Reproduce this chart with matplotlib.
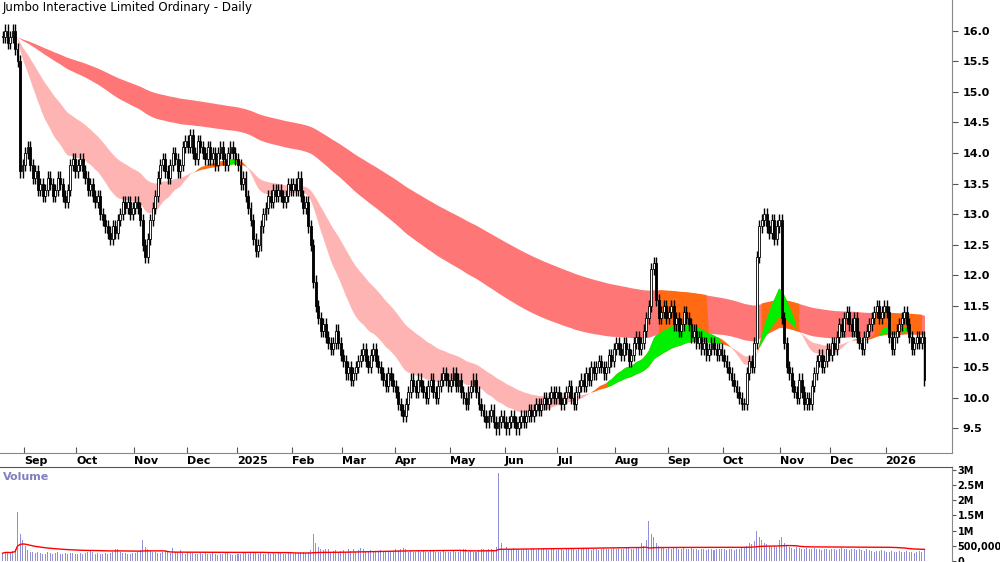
import numpy as np
import pandas as pd
import matplotlib
matplotlib.use("Agg")
import matplotlib.pyplot as plt

# daily closes
closes_by_month = {
    "2024-08": [15.9, 16.0, 15.8, 15.9, 16.0, 15.7, 15.5, 13.7, 13.8],
    "2024-09": [14.0, 14.1, 13.8, 13.6, 13.7, 13.4, 13.5, 13.3, 13.4, 13.6, 13.5, 13.3, 13.4, 13.6, 13.5, 13.3, 13.2, 13.4, 13.8, 13.9, 13.7],
    "2024-10": [13.8, 13.9, 13.7, 13.6, 13.4, 13.5, 13.3, 13.2, 13.3, 13.0, 12.9, 12.8, 12.7, 12.6, 12.8, 12.7, 12.9, 13.0, 13.2, 13.1, 13.2, 13.0, 13.1],
    "2024-11": [13.2, 13.1, 12.9, 12.5, 12.3, 12.6, 12.9, 13.1, 13.3, 13.6, 13.8, 13.9, 13.7, 13.6, 13.8, 14.0, 13.9, 13.7, 13.8, 14.1, 14.2],
    "2024-12": [14.1, 14.3, 14.0, 13.9, 14.2, 14.1, 14.0, 13.9, 14.1, 13.9, 14.0, 13.8, 14.0, 14.1, 13.9, 13.8, 14.0, 14.1, 14.0, 13.9],
    "2025-01": [13.8, 13.5, 13.6, 13.3, 13.1, 12.9, 12.6, 12.4, 12.5, 12.8, 13.0, 13.1, 13.3, 13.2, 13.4, 13.3, 13.4, 13.3, 13.2, 13.3, 13.5, 13.4],
    "2025-02": [13.5, 13.4, 13.6, 13.3, 13.1, 13.2, 12.8, 12.5, 11.9, 11.5, 11.3, 11.1, 11.2, 11.0, 10.9, 10.8, 10.9, 11.1, 10.9, 10.7],
    "2025-03": [10.6, 10.4, 10.5, 10.3, 10.4, 10.5, 10.6, 10.7, 10.8, 10.6, 10.5, 10.7, 10.8, 10.6, 10.5, 10.4, 10.3, 10.2, 10.4, 10.3, 10.2],
    "2025-04": [10.1, 9.9, 9.8, 9.7, 9.9, 10.1, 10.3, 10.2, 10.1, 10.3, 10.2, 10.1, 10.0, 10.2, 10.3, 10.1, 10.0, 10.2, 10.3, 10.4, 10.3, 10.2],
    "2025-05": [10.3, 10.4, 10.2, 10.3, 10.1, 10.0, 9.9, 10.1, 10.2, 10.3, 10.1, 9.9, 9.8, 9.7, 9.6, 9.7, 9.8, 9.6, 9.5, 9.6, 9.7, 9.6],
    "2025-06": [9.5, 9.6, 9.7, 9.6, 9.5, 9.6, 9.7, 9.6, 9.7, 9.8, 9.7, 9.8, 9.9, 9.8, 9.9, 10.0, 9.9, 10.0, 10.1, 10.0, 10.1],
    "2025-07": [10.0, 9.9, 10.0, 10.1, 10.2, 10.0, 9.9, 10.1, 10.2, 10.3, 10.2, 10.4, 10.3, 10.5, 10.4, 10.5, 10.6, 10.5, 10.4, 10.5, 10.7, 10.6, 10.8],
    "2025-08": [10.9, 10.8, 10.7, 10.9, 10.8, 10.6, 10.7, 10.9, 11.0, 10.8, 10.9, 11.1, 11.3, 11.5, 12.1, 12.2, 11.6, 11.3, 11.4, 11.5, 11.3],
    "2025-09": [11.4, 11.5, 11.2, 11.3, 11.1, 11.2, 11.4, 11.3, 11.2, 11.0, 11.1, 10.9, 11.0, 10.8, 10.9, 10.7, 10.8, 10.9, 10.8, 10.7, 10.8, 10.7],
    "2025-10": [10.6, 10.5, 10.4, 10.3, 10.2, 10.1, 10.0, 9.9, 9.9, 10.4, 10.6, 10.5, 10.9, 12.3, 12.8, 12.9, 13.0, 12.8, 12.7, 12.9, 12.6, 12.8, 12.9],
    "2025-11": [11.3, 10.9, 10.5, 10.4, 10.2, 10.1, 10.0, 10.3, 10.1, 9.9, 10.0, 9.9, 10.2, 10.4, 10.6, 10.7, 10.5, 10.6, 10.8, 10.7],
    "2025-12": [10.9, 10.8, 11.0, 11.2, 11.1, 11.3, 11.4, 11.2, 11.1, 11.3, 11.0, 10.9, 10.8, 11.0, 11.1, 11.2, 11.3, 11.4, 11.5, 11.3, 11.4, 11.5],
    "2026-01": [11.4, 11.0, 10.8, 11.0, 11.1, 11.2, 11.3, 11.4, 11.2, 11.0, 10.8, 10.9, 11.0, 10.9, 11.0, 10.3],
}

# daily volume in thousands, same months
volume_by_month = {
    "2024-08": [250, 300, 280, 260, 320, 400, 1600, 900, 700],
    "2024-09": [500, 350, 300, 280, 250, 300, 260, 220, 240, 300, 260, 230, 250, 280, 240, 220, 260, 230, 250, 270, 240],
    "2024-10": [230, 250, 220, 260, 300, 350, 280, 240, 260, 230, 220, 250, 240, 260, 280, 400, 380, 300, 260, 250, 240, 230, 250],
    "2024-11": [260, 300, 350, 700, 450, 380, 320, 300, 280, 260, 250, 300, 320, 280, 260, 420, 300, 280, 350, 260, 240],
    "2024-12": [280, 300, 260, 240, 220, 250, 230, 260, 240, 220, 250, 230, 200, 220, 240, 250, 260, 230, 180, 200],
    "2025-01": [220, 240, 260, 250, 230, 280, 300, 250, 240, 260, 230, 220, 250, 240, 260, 230, 250, 270, 240, 230, 250, 260],
    "2025-02": [240, 260, 250, 280, 300, 260, 280, 350, 900, 600, 450, 380, 350, 400, 380, 300, 320, 350, 300, 320],
    "2025-03": [350, 300, 380, 320, 400, 300, 350, 420, 380, 300, 320, 350, 300, 280, 320, 350, 300, 320, 280, 300, 320],
    "2025-04": [400, 350, 380, 420, 380, 300, 320, 280, 300, 350, 300, 320, 280, 300, 320, 350, 300, 280, 300, 320, 300, 280],
    "2025-05": [300, 320, 280, 300, 350, 400, 380, 300, 320, 280, 300, 350, 400, 380, 350, 400, 380, 350, 450, 2900, 600, 400],
    "2025-06": [450, 400, 380, 420, 400, 380, 350, 400, 380, 360, 400, 380, 350, 380, 400, 420, 380, 360, 400, 380, 360],
    "2025-07": [380, 400, 360, 380, 420, 400, 380, 360, 400, 380, 420, 400, 380, 360, 400, 380, 360, 400, 420, 380, 400, 380, 420],
    "2025-08": [400, 420, 380, 400, 450, 420, 400, 380, 420, 450, 600, 500, 700, 1300, 900, 800, 600, 500, 450, 420, 400],
    "2025-09": [420, 400, 450, 420, 400, 380, 420, 400, 380, 420, 400, 380, 360, 400, 380, 360, 400, 380, 360, 380, 400, 380],
    "2025-10": [380, 360, 400, 380, 360, 400, 380, 420, 450, 500, 600, 550, 650, 1000, 800, 700, 600, 550, 500, 450, 500, 450, 700],
    "2025-11": [800, 600, 500, 450, 420, 400, 450, 420, 400, 380, 420, 400, 380, 420, 400, 380, 360, 400, 380, 360],
    "2025-12": [380, 400, 360, 380, 420, 400, 380, 360, 400, 380, 350, 380, 360, 340, 380, 360, 340, 300, 320, 340, 360, 320],
    "2026-01": [300, 280, 320, 300, 280, 320, 300, 280, 320, 300, 280, 260, 300, 320, 280, 400],
}

closes = np.array(sum(closes_by_month.values(), []))
volumes = np.array(sum(volume_by_month.values(), [])) * 1000.0
month_labels = ["Aug", "Sep", "Oct", "Nov", "Dec", "2025", "Feb", "Mar", "Apr", "May", "Jun",
                "Jul", "Aug", "Sep", "Oct", "Nov", "Dec", "2026"]

n = len(closes)
x = np.arange(n)
opens = np.r_[closes[0], closes[:-1]]
highs = np.maximum(opens, closes) + 0.1
lows = np.minimum(opens, closes) - 0.1

c = pd.Series(closes)
ema = lambda span: c.ewm(span=span, adjust=False).mean().values
f1, f2 = ema(25), ema(55)
s1, s2 = ema(160), ema(260)
vol_ma = pd.Series(volumes).rolling(60, min_periods=1).mean().values

fig = plt.figure(figsize=(10, 5.62), dpi=100)
ax = fig.add_axes([0.0, 0.194, 0.952, 0.806])
axv = fig.add_axes([0.0, 0.0, 0.952, 0.169])

RED, PINK, GREEN, ORANGE = "#ff7676", "#ffb4b4", "#00f000", "#ff6a13"

# long ribbon
lo_s, hi_s = np.minimum(s1, s2), np.maximum(s1, s2)
bull_long = f1 > lo_s
ax.fill_between(x, lo_s, hi_s, color=RED, lw=0)
ax.fill_between(x, lo_s, hi_s, where=bull_long, color=ORANGE, lw=0, interpolate=True)

# short ribbon
lo_f, hi_f = np.minimum(f1, f2), np.maximum(f1, f2)
up = f1 > f2
strong = up & ((f1 - f2) > 0.08)
ax.fill_between(x, lo_f, hi_f, where=~up, color=PINK, lw=0, interpolate=True)
ax.fill_between(x, lo_f, hi_f, where=up, color=ORANGE, lw=0, interpolate=True)
ax.fill_between(x, lo_f, hi_f, where=strong, color=GREEN, lw=0, interpolate=True)

# candles
ax.vlines(x, lows, highs, color="black", lw=1.0, zorder=3)
rising = closes >= opens
body_lo = np.minimum(opens, closes)
body_h = np.maximum(np.abs(closes - opens), 0.02)
ax.bar(x[rising], body_h[rising], bottom=body_lo[rising], width=0.75,
       color="white", edgecolor="black", lw=0.6, zorder=4)
ax.bar(x[~rising], body_h[~rising], bottom=body_lo[~rising], width=0.75,
       color="black", edgecolor="black", lw=0.6, zorder=4)

# month ticks
starts = np.cumsum([0] + [len(v) for v in closes_by_month.values()])[:-1]
ax.set_xlim(-1, n + 10)
ax.set_ylim(9.1, 16.5)
ax.set_xticks(starts[1:] - 0.5)
ax.set_xticklabels(month_labels[1:], ha="left", fontsize=8, fontweight="bold")
ax.tick_params(axis="x", direction="in", length=4, pad=2, colors="#555555", labelcolor="black")
ax.yaxis.tick_right()
ax.set_yticks(np.arange(9.5, 16.01, 0.5))
ax.set_yticklabels([f"{v:.1f}" for v in np.arange(9.5, 16.01, 0.5)], fontsize=8, fontweight="bold")
ax.tick_params(axis="y", length=4, colors="#555555", labelcolor="black")
for sp in ["top", "left"]:
    ax.spines[sp].set_visible(False)
ax.spines["right"].set_color("#888888")
ax.spines["bottom"].set_color("#888888")
ax.text(0.003, 0.998, "Jumbo Interactive Limited Ordinary - Daily", transform=ax.transAxes,
        va="top", ha="left", fontsize=8.5)

# volume panel
axv.bar(x, volumes, width=0.4, color="#9090d8")
axv.plot(x, vol_ma, color="red", lw=1)
axv.set_xlim(-1, n + 10)
axv.set_ylim(-0.04e6, 3.1e6)
axv.set_xticks([])
axv.yaxis.tick_right()
axv.set_yticks([0, 0.5e6, 1e6, 1.5e6, 2e6, 2.5e6, 3e6])
axv.set_yticklabels(["0", "500,000", "1M", "1.5M", "2M", "2.5M", "3M"], fontsize=7, fontweight="bold")
axv.tick_params(axis="y", length=3, pad=1, colors="#555555", labelcolor="black")
for sp in ["left", "bottom"]:
    axv.spines[sp].set_visible(False)
axv.spines["right"].set_color("#888888")
axv.spines["top"].set_color("#555555")
axv.text(0.003, 0.95, "Volume", transform=axv.transAxes, va="top", ha="left",
         fontsize=8, fontweight="bold", color="#8080c0")

fig.savefig("out.png", dpi=100)
